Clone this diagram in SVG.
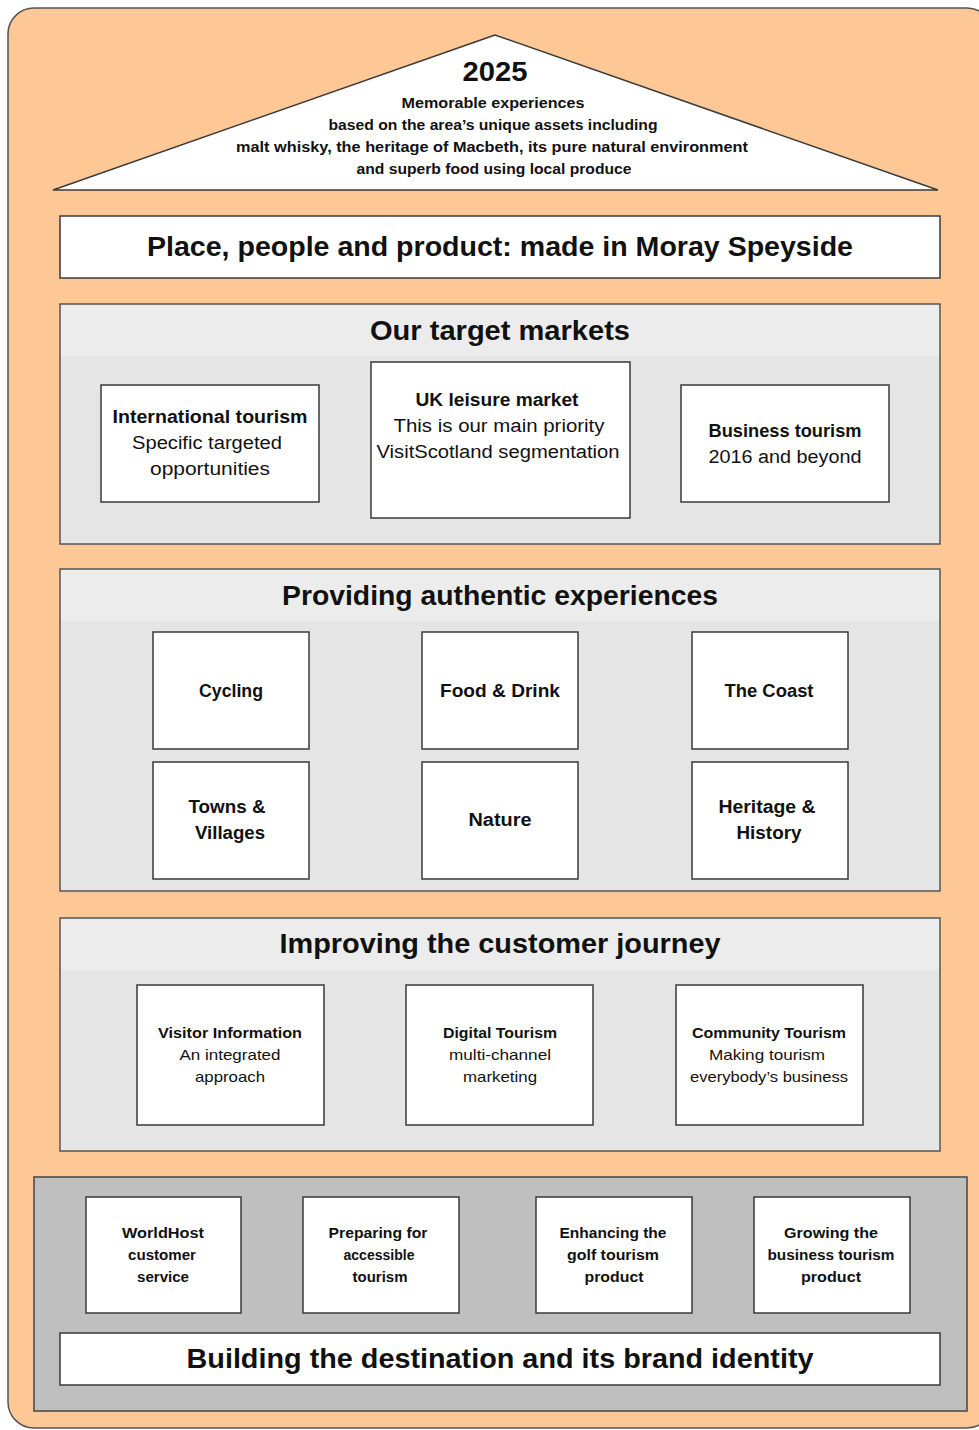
<svg xmlns="http://www.w3.org/2000/svg" width="979" height="1430" viewBox="0 0 979 1430">
<style>
text{font-family:"Liberation Sans","Open Sans",sans-serif;fill:#111;text-anchor:middle;}
.b{font-weight:bold;}
.box{fill:#fff;stroke:#3a3a3a;stroke-width:1.5;}
.sec{fill:#e5e5e5;stroke:#555;stroke-width:1.5;}
.band{fill:#ececec;}
.t28{font-size:27px;font-weight:bold;}
.t19{font-size:18px;}
.t16{font-size:15px;}
.t15{font-size:14.5px;font-weight:bold;}
</style>
<rect x="8" y="8" width="985" height="1420" rx="26" fill="#fdc896" stroke="#555" stroke-width="1.5"/>
<g id="roof">
<polygon points="495,35 53,190 938,190" fill="#fff" stroke="#3a3a3a" stroke-width="1.5"/>
<text x="495" y="81" class="b" font-size="27" textLength="65" lengthAdjust="spacingAndGlyphs">2025</text>
<text x="493" y="108" class="b" font-size="14.5" textLength="183" lengthAdjust="spacingAndGlyphs">Memorable experiences</text>
<text x="493" y="130" class="b" font-size="14.5" textLength="329" lengthAdjust="spacingAndGlyphs">based on the area’s unique assets including</text>
<text x="492" y="152" class="b" font-size="14.5" textLength="512" lengthAdjust="spacingAndGlyphs">malt whisky, the heritage of Macbeth, its pure natural environment</text>
<text x="494" y="174" class="b" font-size="14.5" textLength="275" lengthAdjust="spacingAndGlyphs">and superb food using local produce</text>
</g>
<g id="place">
<rect class="box" x="60" y="216" width="880" height="62"/>
<text x="500" y="256" class="t28" textLength="706" lengthAdjust="spacingAndGlyphs">Place, people and product: made in Moray Speyside</text>
</g>
<g id="markets">
<rect class="sec" x="60" y="304" width="880" height="240"/>
<rect class="band" x="61" y="305" width="878" height="51"/>
<text x="500" y="340" class="t28" textLength="260" lengthAdjust="spacingAndGlyphs">Our target markets</text>
</g>
<g id="international">
<rect class="box" x="101" y="385" width="218" height="117"/>
<text x="210" y="423" class="t19 b" textLength="195" lengthAdjust="spacingAndGlyphs">International tourism</text>
<text x="207" y="449" class="t19" textLength="150" lengthAdjust="spacingAndGlyphs">Specific targeted</text>
<text x="210" y="475" class="t19" textLength="120" lengthAdjust="spacingAndGlyphs">opportunities</text>
</g>
<g id="uk">
<rect class="box" x="371" y="362" width="259" height="156"/>
<text x="497" y="406" class="t19 b" textLength="163" lengthAdjust="spacingAndGlyphs">UK leisure market</text>
<text x="499" y="432" class="t19" textLength="211" lengthAdjust="spacingAndGlyphs">This is our main priority</text>
<text x="498" y="458" class="t19" textLength="243" lengthAdjust="spacingAndGlyphs">VisitScotland segmentation</text>
</g>
<g id="business">
<rect class="box" x="681" y="385" width="208" height="117"/>
<text x="785" y="437" class="t19 b" textLength="153" lengthAdjust="spacingAndGlyphs">Business tourism</text>
<text x="785" y="463" class="t19" textLength="153" lengthAdjust="spacingAndGlyphs">2016 and beyond</text>
</g>
<g id="experiences">
<rect class="sec" x="60" y="569" width="880" height="322"/>
<rect class="band" x="61" y="570" width="878" height="51"/>
<text x="500" y="605" class="t28" textLength="436" lengthAdjust="spacingAndGlyphs">Providing authentic experiences</text>
</g>
<g id="cycling"><rect class="box" x="153" y="632" width="156" height="117"/><text x="231" y="697" class="t19 b" textLength="64" lengthAdjust="spacingAndGlyphs">Cycling</text></g>
<g id="food"><rect class="box" x="422" y="632" width="156" height="117"/><text x="500" y="697" class="t19 b" textLength="120" lengthAdjust="spacingAndGlyphs">Food &amp; Drink</text></g>
<g id="coast"><rect class="box" x="692" y="632" width="156" height="117"/><text x="769" y="697" class="t19 b" textLength="89" lengthAdjust="spacingAndGlyphs">The Coast</text></g>
<g id="towns"><rect class="box" x="153" y="762" width="156" height="117"/><text x="227" y="813" class="t19 b" textLength="77" lengthAdjust="spacingAndGlyphs">Towns &amp;</text><text x="230" y="839" class="t19 b" textLength="70" lengthAdjust="spacingAndGlyphs">Villages</text></g>
<g id="nature"><rect class="box" x="422" y="762" width="156" height="117"/><text x="500" y="826" class="t19 b" textLength="63" lengthAdjust="spacingAndGlyphs">Nature</text></g>
<g id="heritage"><rect class="box" x="692" y="762" width="156" height="117"/><text x="767" y="813" class="t19 b" textLength="97" lengthAdjust="spacingAndGlyphs">Heritage &amp;</text><text x="769" y="839" class="t19 b" textLength="65" lengthAdjust="spacingAndGlyphs">History</text></g>
<g id="journey">
<rect class="sec" x="60" y="918" width="880" height="233"/>
<rect class="band" x="61" y="919" width="878" height="51"/>
<text x="500" y="953" class="t28" textLength="441" lengthAdjust="spacingAndGlyphs">Improving the customer journey</text>
</g>
<g id="visitor"><rect class="box" x="137" y="985" width="187" height="140"/>
<text x="230" y="1038" class="t16 b" textLength="144" lengthAdjust="spacingAndGlyphs">Visitor Information</text>
<text x="230" y="1060" class="t16" textLength="101" lengthAdjust="spacingAndGlyphs">An integrated</text>
<text x="230" y="1082" class="t16" textLength="70" lengthAdjust="spacingAndGlyphs">approach</text></g>
<g id="digital"><rect class="box" x="406" y="985" width="187" height="140"/>
<text x="500" y="1038" class="t16 b" textLength="114" lengthAdjust="spacingAndGlyphs">Digital Tourism</text>
<text x="500" y="1060" class="t16" textLength="102" lengthAdjust="spacingAndGlyphs">multi-channel</text>
<text x="500" y="1082" class="t16" textLength="74" lengthAdjust="spacingAndGlyphs">marketing</text></g>
<g id="community"><rect class="box" x="676" y="985" width="187" height="140"/>
<text x="769" y="1038" class="t16 b" textLength="154" lengthAdjust="spacingAndGlyphs">Community Tourism</text>
<text x="767" y="1060" class="t16" textLength="116" lengthAdjust="spacingAndGlyphs">Making tourism</text>
<text x="769" y="1082" class="t16" textLength="158" lengthAdjust="spacingAndGlyphs">everybody’s business</text></g>
<g id="foundation">
<rect x="34" y="1177" width="933" height="234" fill="#bfbfbf" stroke="#444" stroke-width="1.5"/>
</g>
<g id="worldhost"><rect class="box" x="86" y="1197" width="155" height="116"/>
<text x="163" y="1238" class="t15" textLength="82" lengthAdjust="spacingAndGlyphs">WorldHost</text>
<text x="162" y="1260" class="t15" textLength="68" lengthAdjust="spacingAndGlyphs">customer</text>
<text x="163" y="1282" class="t15" textLength="52" lengthAdjust="spacingAndGlyphs">service</text></g>
<g id="accessible"><rect class="box" x="303" y="1197" width="156" height="116"/>
<text x="378" y="1238" class="t15" textLength="99" lengthAdjust="spacingAndGlyphs">Preparing for</text>
<text x="379" y="1260" class="t15" textLength="71" lengthAdjust="spacingAndGlyphs">accessible</text>
<text x="380" y="1282" class="t15" textLength="55" lengthAdjust="spacingAndGlyphs">tourism</text></g>
<g id="golf"><rect class="box" x="536" y="1197" width="156" height="116"/>
<text x="613" y="1238" class="t15" textLength="107" lengthAdjust="spacingAndGlyphs">Enhancing the</text>
<text x="613" y="1260" class="t15" textLength="92" lengthAdjust="spacingAndGlyphs">golf tourism</text>
<text x="614" y="1282" class="t15" textLength="59" lengthAdjust="spacingAndGlyphs">product</text></g>
<g id="growing"><rect class="box" x="754" y="1197" width="156" height="116"/>
<text x="831" y="1238" class="t15" textLength="94" lengthAdjust="spacingAndGlyphs">Growing the</text>
<text x="831" y="1260" class="t15" textLength="127" lengthAdjust="spacingAndGlyphs">business tourism</text>
<text x="831" y="1282" class="t15" textLength="60" lengthAdjust="spacingAndGlyphs">product</text></g>
<g id="building"><rect class="box" x="60" y="1333" width="880" height="52"/>
<text x="500" y="1368" class="t28" textLength="627" lengthAdjust="spacingAndGlyphs">Building the destination and its brand identity</text></g>
<g id="connectors"></g>
</svg>
